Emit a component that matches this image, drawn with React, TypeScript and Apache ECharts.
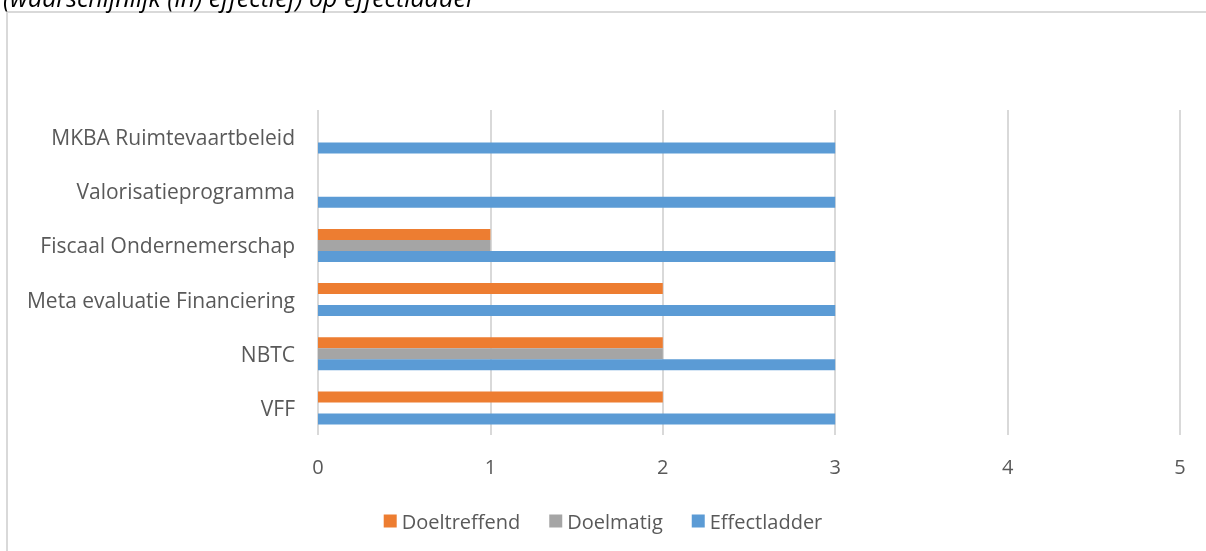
import React, { useEffect, useRef } from "react";
import * as echarts from "echarts";

const categories = [
  "VFF",
  "NBTC",
  "Meta evaluatie Financiering",
  "Fiscaal Ondernemerschap",
  "Valorisatieprogramma",
  "MKBA Ruimtevaartbeleid",
];
const doeltreffend = [2, 2, 2, 1, 0, 0];
const doelmatig = [0, 2, 0, 1, 0, 0];
const effectladder = [3, 3, 3, 3, 3, 3];
const seriesNames = ["Doeltreffend", "Doelmatig", "Effectladder"];
const titleText = "(waarschijnlijk (in) effectief) op effectladder";

const FONT = "'Open Sans', sans-serif";
const TEXT = "#595959";
const GRID = "#d9d9d9";

export default function App() {
  const ref = useRef<HTMLDivElement>(null);
  useEffect(() => {
    if (!ref.current) return;
    const chart = echarts.init(ref.current, undefined, { renderer: "svg" });
    const mk = (name: string, data: number[], color: string) => ({
      name,
      type: "bar",
      data,
      barGap: "0%",
      barCategoryGap: "39%",
      itemStyle: { color },
    });
    chart.setOption({
      animation: false,
      textStyle: { fontFamily: FONT },
      graphic: [
        {
          type: "rect",
          shape: { x: 7, y: 12, width: 1400, height: 800 },
          style: { fill: "none", stroke: GRID, lineWidth: 2 },
          silent: true,
        },
        {
          type: "text",
          x: 3,
          y: -3,
          style: {
            text: titleText,
            fontFamily: FONT,
            fontStyle: "italic",
            fontSize: 25,
            fill: "#000000",
            verticalAlign: "middle",
          },
        },
      ],
      legend: {
        data: seriesNames,
        bottom: 15,
        left: "center",
        itemWidth: 13,
        itemHeight: 13,
        itemGap: 29,
        icon: "rect",
        textStyle: { color: TEXT, fontSize: 20, fontFamily: FONT },
      },
      grid: { left: 318, right: 26, top: 110, bottom: 116, containLabel: false },
      xAxis: {
        type: "value",
        min: 0,
        max: 5,
        interval: 1,
        axisLine: { show: false },
        axisTick: { show: false },
        axisLabel: { color: TEXT, fontSize: 20, margin: 21, fontFamily: FONT },
        splitLine: { show: true, lineStyle: { color: GRID, width: 2 } },
      },
      yAxis: {
        type: "category",
        data: categories,
        axisLine: { show: false },
        axisTick: { show: false },
        axisLabel: { color: TEXT, fontSize: 21, margin: 23, fontFamily: FONT },
      },
      series: [
        mk(seriesNames[0], doeltreffend, "#ED7D31"),
        mk(seriesNames[1], doelmatig, "#A5A5A5"),
        mk(seriesNames[2], effectladder, "#5B9BD5"),
      ],
    });
    return () => chart.dispose();
  }, []);
  return (
    <div
      ref={ref}
      style={{ position: "fixed", left: 0, top: 0, width: 1206, height: 551 }}
    />
  );
}
